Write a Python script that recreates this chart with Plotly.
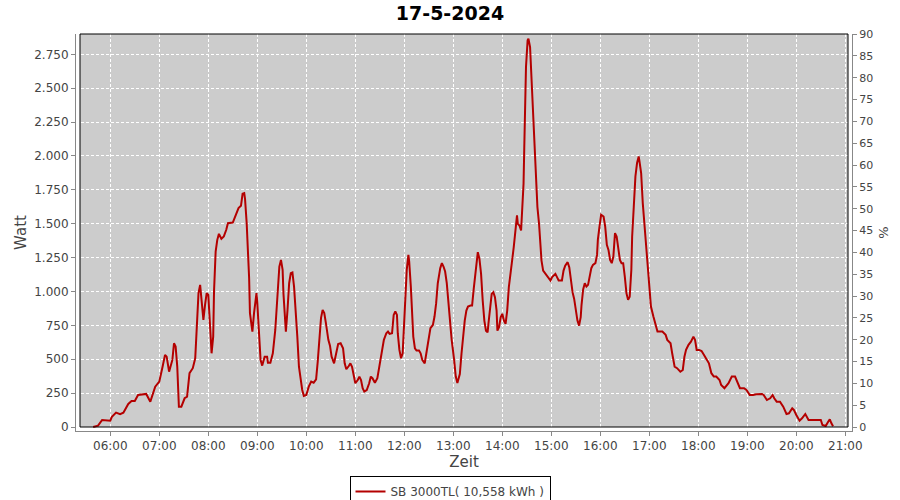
import plotly.graph_objects as go

DATE = "2024-05-17"

times = [
    "05:39", "05:45", "05:50", "06:00", "06:02", "06:07", "06:12", "06:16", "06:22", "06:26",
    "06:30", "06:34", "06:44", "06:49", "06:55", "07:00", "07:04", "07:07", "07:09", "07:12",
    "07:16", "07:18", "07:20", "07:22", "07:24", "07:27", "07:31", "07:34", "07:37", "07:41",
    "07:44", "07:46", "07:48", "07:50", "07:52", "07:54", "07:56", "07:58", "08:00", "08:01",
    "08:03", "08:04", "08:06", "08:07", "08:08", "08:09", "08:11", "08:13", "08:16", "08:19",
    "08:22", "08:24", "08:30", "08:34", "08:37", "08:40", "08:42", "08:44", "08:45", "08:47",
    "08:48", "08:50", "08:51", "08:53", "08:54", "08:56", "08:58", "08:59", "09:00", "09:02",
    "09:04", "09:06", "09:09", "09:12", "09:13", "09:16", "09:19", "09:22", "09:25", "09:27",
    "09:29", "09:31", "09:32", "09:34", "09:35", "09:37", "09:39", "09:41", "09:43", "09:45",
    "09:47", "09:49", "09:51", "09:53", "09:55", "09:57", "10:00", "10:03", "10:06", "10:09",
    "10:12", "10:14", "10:16", "10:18", "10:20", "10:22", "10:24", "10:27", "10:29", "10:31",
    "10:34", "10:36", "10:39", "10:42", "10:45", "10:47", "10:49", "10:52", "10:54", "10:56",
    "10:58", "11:00", "11:03", "11:05", "11:07", "11:09", "11:11", "11:14", "11:17", "11:19",
    "11:21", "11:24", "11:27", "11:29", "11:32", "11:35", "11:38", "11:40", "11:42", "11:45",
    "11:47", "11:49", "11:51", "11:52", "11:54", "11:56", "11:58", "11:59", "12:01", "12:03",
    "12:05", "12:06", "12:08", "12:10", "12:11", "12:13", "12:15", "12:18", "12:20", "12:22",
    "12:25", "12:27", "12:30", "12:32", "12:35", "12:37", "12:39", "12:41", "12:44", "12:46",
    "12:48", "12:50", "12:52", "12:54", "12:56", "12:58", "13:01", "13:03", "13:05", "13:08",
    "13:10", "13:12", "13:14", "13:16", "13:18", "13:21", "13:23", "13:25", "13:27", "13:29",
    "13:30", "13:32", "13:34", "13:36", "13:38", "13:40", "13:42", "13:43", "13:45", "13:47",
    "13:49", "13:51", "13:53", "13:54", "13:56", "13:58", "14:00", "14:02", "14:04", "14:06",
    "14:08", "14:10", "14:12", "14:14", "14:16", "14:18", "14:19", "14:21", "14:23", "14:24",
    "14:26", "14:27", "14:28", "14:29", "14:31", "14:32", "14:34", "14:35", "14:37", "14:38",
    "14:40", "14:42", "14:43", "14:45", "14:47", "14:48", "14:50", "14:53", "14:56", "14:59",
    "15:01", "15:05", "15:07", "15:09", "15:13", "15:15", "15:17", "15:20", "15:22", "15:24",
    "15:26", "15:28", "15:30", "15:32", "15:34", "15:36", "15:37", "15:39", "15:41", "15:43",
    "15:45", "15:47", "15:49", "15:51", "15:54", "15:56", "15:57", "15:59", "16:01", "16:04",
    "16:06", "16:08", "16:10", "16:12", "16:14", "16:16", "16:18", "16:20", "16:22", "16:24",
    "16:26", "16:28", "16:30", "16:32", "16:34", "16:36", "16:38", "16:39", "16:41", "16:43",
    "16:45", "16:47", "16:48", "16:50", "16:52", "16:54", "16:56", "16:58", "17:00", "17:02",
    "17:05", "17:07", "17:10", "17:16", "17:20", "17:22", "17:26", "17:28", "17:31", "17:34",
    "17:38", "17:41", "17:43", "17:45", "17:48", "17:51", "17:54", "17:56", "17:58", "18:01",
    "18:04", "18:07", "18:10", "18:13", "18:16", "18:19", "18:22", "18:26", "18:28", "18:32",
    "18:37", "18:41", "18:45", "18:48", "18:51", "18:56", "18:59", "19:03", "19:07", "19:11",
    "19:18", "19:20", "19:24", "19:28", "19:31", "19:33", "19:36", "19:40", "19:44", "19:48",
    "19:51", "19:55", "19:57", "20:00", "20:04", "20:07", "20:11", "20:15", "20:21", "20:25",
    "20:30", "20:32", "20:36", "20:39", "20:41", "20:43", "20:45",
]

watts = [
    0, 10, 52, 47, 76, 106, 94, 106, 170, 192,
    192, 236, 244, 187, 298, 335, 445, 532, 519, 408,
    495, 618, 593, 445, 150, 150, 212, 224, 397, 434,
    507, 778, 988, 1049, 889, 790, 901, 988, 975, 889,
    655, 544, 667, 1000, 1180, 1295, 1381, 1425, 1389, 1406,
    1455, 1504, 1509, 1578, 1615, 1632, 1721, 1726, 1682, 1504,
    1369, 1098, 840, 741, 704, 840, 962, 988, 914, 667,
    495, 453, 519, 519, 475, 475, 544, 716, 988, 1184,
    1233, 1160, 988, 766, 704, 864, 1061, 1135, 1140, 1036,
    877, 667, 445, 347, 273, 229, 236, 298, 335, 327,
    352, 482, 643, 803, 864, 840, 766, 643, 600, 519,
    470, 519, 613, 618, 581, 470, 426, 450, 470, 445,
    372, 323, 347, 372, 347, 286, 261, 273, 323, 372,
    360, 327, 360, 434, 544, 643, 692, 704, 687, 692,
    827, 852, 827, 692, 569, 507, 544, 667, 914, 1160,
    1270, 1221, 1036, 815, 667, 581, 564, 564, 544, 495,
    470, 544, 667, 729, 753, 815, 914, 1061, 1172, 1209,
    1184, 1147, 1061, 914, 790, 643, 495, 372, 325, 391,
    539, 687, 785, 859, 889, 896, 896, 1019, 1130, 1253,
    1290, 1241, 1130, 933, 785, 711, 699, 761, 884, 982,
    995, 958, 859, 711, 736, 810, 835, 785, 761, 859,
    1032, 1154, 1228, 1327, 1450, 1561, 1499, 1487, 1450, 1549,
    1795, 2090, 2386, 2657, 2853, 2866, 2804, 2669, 2435, 2214,
    1992, 1795, 1623, 1499, 1352, 1228, 1154, 1130, 1106, 1081,
    1106, 1130, 1106, 1081, 1081, 1154, 1191, 1216, 1179, 1081,
    995, 945, 859, 785, 748, 810, 900, 1015, 1061, 1036,
    1049, 1123, 1172, 1196, 1209, 1270, 1381, 1479, 1566, 1553,
    1479, 1344, 1307, 1233, 1209, 1258, 1431, 1406, 1332, 1233,
    1209, 1209, 1110, 988, 938, 962, 1160, 1406, 1627, 1849,
    1948, 1996, 1959, 1874, 1652, 1504, 1357, 1184, 1012, 889,
    815, 766, 704, 704, 680, 643, 618, 544, 445, 434,
    408, 421, 519, 569, 606, 630, 667, 643, 569, 569,
    561, 532, 495, 470, 397, 372, 372, 347, 310, 286,
    323, 372, 372, 323, 286, 286, 273, 236, 236, 242,
    244, 236, 199, 212, 236, 212, 187, 187, 150, 96,
    101, 138, 126, 89, 47, 64, 96, 52, 52, 57,
    52, 15, 7, 39, 57, 27, 5,
]

series_name = "SB 3000TL( 10,558 kWh )"
title_text = "17-5-2024"
x_title = "Zeit"
y_title = "Watt"
y2_title = "%"
w_ticks = [0, 250, 500, 750, 1000, 1250, 1500, 1750, 2000, 2250, 2500, 2750]
pct_ticks = list(range(0, 95, 5))

x_vals = [f"{DATE} {t}" for t in times]

FONT = "DejaVu Sans"
LABEL_COLOR = "#444444"
AXIS_COLOR = "#888888"

# pixel geometry of the plot
L, R, T, B = 76, 852, 34, 431          # axis lines
INNER_L, INNER_R, INNER_B = 80, 848, 427  # grey plotting rectangle
W_PX = R - L
H_PX = B - T

fig = go.Figure()
fig.add_trace(go.Scatter(
    x=x_vals, y=watts, mode="lines", name=series_name,
    line=dict(color="#b40000", width=2), showlegend=True,
))
fig.add_trace(go.Scatter(
    x=[x_vals[0]], y=[None], yaxis="y2", mode="lines", showlegend=False,
    hoverinfo="skip",
))

# grey plot rectangle (below gridlines) and black border (above)
x0p = (INNER_L - L) / W_PX
x1p = (INNER_R - L) / W_PX
y0p = (B - INNER_B) / H_PX
fig.add_shape(type="rect", xref="paper", yref="paper", x0=x0p, x1=x1p, y0=y0p, y1=1,
              fillcolor="#cccccc", line=dict(width=0), layer="below")
fig.add_shape(type="rect", xref="paper", yref="paper", x0=x0p, x1=x1p, y0=y0p, y1=1,
              fillcolor="rgba(0,0,0,0)", line=dict(color="black", width=1), layer="above")

tickfont = dict(family=FONT, size=12, color=LABEL_COLOR)
titlefont = dict(family=FONT, size=15, color=LABEL_COLOR)

fig.update_layout(
    width=900, height=500,
    margin=dict(l=L, r=900 - R, t=T, b=500 - B, pad=0, autoexpand=False),
    paper_bgcolor="white", plot_bgcolor="white",
    separators=",.",
    title=dict(text=title_text, x=0.5, xref="container", xanchor="center",
               y=1 - 13 / 500, yref="container", yanchor="middle",
               font=dict(family=FONT, size=19, color="black", weight="bold")),
    showlegend=True,
    legend=dict(orientation="h", x=0.5, xref="container", xanchor="center",
                y=1 - 476 / 500, yref="container", yanchor="top",
                bordercolor="black", borderwidth=1, bgcolor="white",
                font=dict(family=FONT, size=12, color=LABEL_COLOR),
                itemwidth=30, tracegroupgap=0),
    xaxis=dict(
        type="date", automargin=False,
        range=[f"{DATE} 05:18:00", f"{DATE} 21:08:12"],
        tick0=f"{DATE} 06:00", dtick=3600000, tickformat="%H:%M",
        showgrid=True, gridcolor="white", griddash="3px,2px", gridwidth=1,
        showline=True, linecolor=AXIS_COLOR, linewidth=1,
        ticks="outside", ticklen=4, tickcolor=AXIS_COLOR,
        tickfont=tickfont, zeroline=False,
        title=dict(text=x_title, font=titlefont, standoff=4),
        fixedrange=True,
    ),
    yaxis=dict(
        automargin=False,
        range=[-29.5, 2900],
        tickvals=w_ticks, tickformat=",d",
        showgrid=True, gridcolor="white", griddash="3px,2px", gridwidth=1,
        showline=True, linecolor=AXIS_COLOR, linewidth=1,
        ticks="outside", ticklen=4, tickcolor=AXIS_COLOR,
        tickfont=tickfont, zeroline=False,
        title=dict(text=y_title, font=titlefont, standoff=3),
    ),
    yaxis2=dict(
        automargin=False,
        overlaying="y", side="right",
        range=[-0.916, 90],
        tickvals=pct_ticks,
        showgrid=False, zeroline=False,
        showline=True, linecolor=AXIS_COLOR, linewidth=1,
        ticks="outside", ticklen=4, tickcolor=AXIS_COLOR,
        tickfont=dict(family=FONT, size=11, color=LABEL_COLOR),
        title=dict(text=y2_title, font=dict(family=FONT, size=13, color=LABEL_COLOR), standoff=6),
    ),
)

fig.write_html(
    "out.html",
    config={"displayModeBar": False},
    post_script="document.body.style.margin='0px';document.body.style.overflow='hidden';",
)
